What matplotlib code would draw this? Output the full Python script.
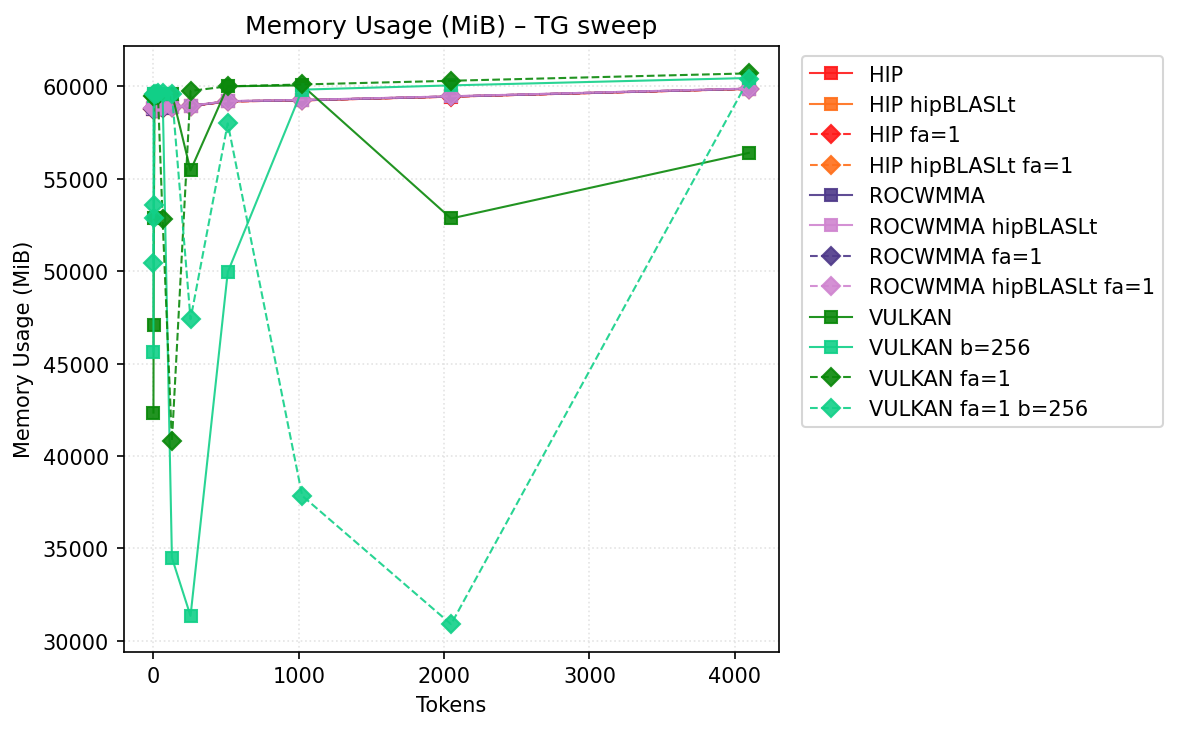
import numpy as np
import matplotlib
matplotlib.use("Agg")
import matplotlib.pyplot as plt

# token counts (TG sweep)
tokens = [1, 2, 4, 8, 16, 32, 64, 128, 256, 512, 1024, 2048, 4096]

# memory usage in MiB per backend
hip = [58780, 58790, 58800, 58800, 58810, 58820, 58840, 58880, 58930, 59180, 59240, 59440, 59860]
hip_blas = [58790, 58800, 58800, 58810, 58820, 58830, 58850, 58890, 58940, 59190, 59250, 59450, 59870]
hip_fa = [58780, 58790, 58800, 58800, 58810, 58820, 58840, 58880, 58930, 59180, 59240, 59440, 59860]
hip_blas_fa = [58790, 58800, 58800, 58810, 58820, 58830, 58850, 58890, 58940, 59190, 59250, 59450, 59870]
roc = [58790, 58800, 58800, 58810, 58820, 58830, 58850, 58890, 58940, 59190, 59250, 59450, 59870]
roc_blas = [58800, 58800, 58810, 58820, 58830, 58840, 58860, 58900, 58950, 59200, 59260, 59460, 59880]
roc_fa = [58790, 58800, 58800, 58810, 58820, 58830, 58850, 58890, 58940, 59190, 59250, 59450, 59870]
roc_blas_fa = [58800, 58800, 58810, 58820, 58830, 58840, 58860, 58900, 58950, 59200, 59260, 59460, 59880]
vulkan = [42350, 47100, 52850, 59500, 59600, 59600, 59600, 59600, 55450, 60000, 60050, 52850, 56400]
vulkan_b256 = [45650, 59500, 59600, 59600, 59600, 59600, 59600, 34500, 31350, 49950, 59820, 60050, 60450]
vulkan_fa = [59500, 59500, 59500, 59550, 59550, 59550, 52800, 40800, 59750, 60000, 60100, 60300, 60700]
vulkan_fa_b256 = [50450, 52850, 53600, 59600, 59600, 59650, 59650, 59600, 47400, 58000, 37850, 30900, 60400]

series = [
    ("HIP", hip, "#ff1a1a", "s", "-"),
    ("HIP hipBLASLt", hip_blas, "#ff6f1a", "s", "-"),
    ("HIP fa=1", hip_fa, "#ff1a1a", "D", "--"),
    ("HIP hipBLASLt fa=1", hip_blas_fa, "#ff6f1a", "D", "--"),
    ("ROCWMMA", roc, "#4f3a8a", "s", "-"),
    ("ROCWMMA hipBLASLt", roc_blas, "#d085d0", "s", "-"),
    ("ROCWMMA fa=1", roc_fa, "#4f3a8a", "D", "--"),
    ("ROCWMMA hipBLASLt fa=1", roc_blas_fa, "#d085d0", "D", "--"),
    ("VULKAN", vulkan, "#0a880a", "s", "-"),
    ("VULKAN b=256", vulkan_b256, "#12d088", "s", "-"),
    ("VULKAN fa=1", vulkan_fa, "#0a880a", "D", "--"),
    ("VULKAN fa=1 b=256", vulkan_fa_b256, "#12d088", "D", "--"),
]

fig, ax = plt.subplots(figsize=(7.853, 4.873), dpi=150)
fig.subplots_adjust(left=0.105, right=0.661, top=0.936, bottom=0.107)

for name, vals, col, mk, ls in series:
    ax.plot(tokens, vals, color=col, marker=mk, linestyle=ls, lw=1,
            markersize=6, alpha=0.9, label=name)

ax.set_title("Memory Usage (MiB) – TG sweep")
ax.set_xlabel("Tokens")
ax.set_ylabel("Memory Usage (MiB)")
ax.grid(True, linestyle=":", color="#dddddd", alpha=0.8)
ax.legend(loc="upper left", bbox_to_anchor=(1.02, 1.0))

fig.savefig("out.png", dpi=150)
